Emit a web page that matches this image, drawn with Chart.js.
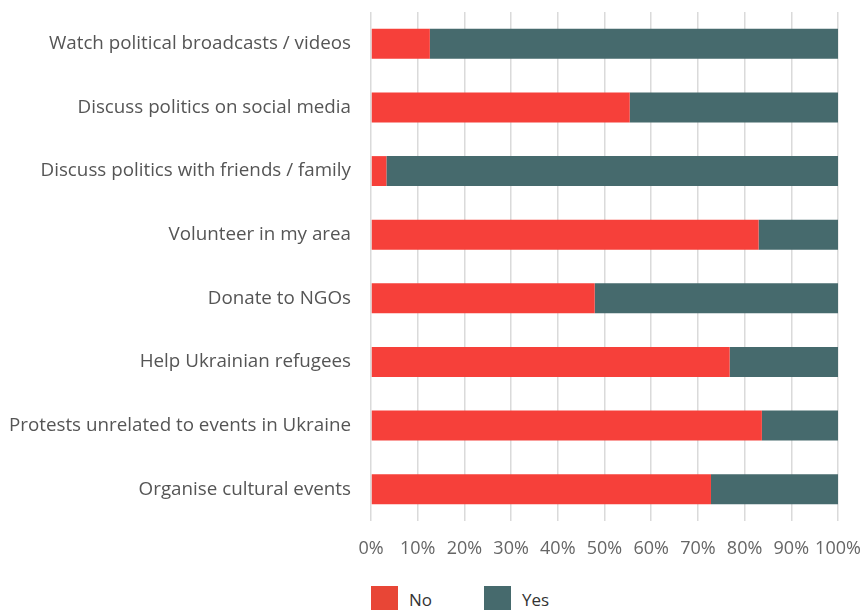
<!DOCTYPE html>
<html>
<head>
<meta charset="utf-8">
<script src="https://cdn.jsdelivr.net/npm/chart.js@4"></script>
<style>
  body { margin: 0; background: #fff; overflow: hidden; font-family: "Open Sans", sans-serif; }
  #wrap { position: relative; width: 862px; height: 575px; }
  #legend { position: absolute; left: 371px; top: 586px; display: flex; }
  .item { display: flex; align-items: center; width: 113px; }
  .box { width: 27px; height: 27px; margin-right: 11px; }
  .label { font-size: 17px; color: #333; }
</style>
</head>
<body>
<div id="wrap"><canvas id="chart"></canvas></div>
<div id="legend"></div>
<script>
const categories = [
    'Watch political broadcasts / videos',
    'Discuss politics on social media',
    'Discuss politics with friends / family',
    'Volunteer in my area',
    'Donate to NGOs',
    'Help Ukrainian refugees',
    'Protests unrelated to events in Ukraine',
    'Organise cultural events'
];
const noValues = [12.6, 55.4, 3.3, 83.0, 47.9, 76.8, 83.7, 72.8];
const yesValues = [87.4, 44.6, 96.7, 17.0, 52.1, 23.2, 16.3, 27.2];
const seriesNames = ['No', 'Yes'];
const seriesColors = ['#f6403a', '#466a6d'];
const legendColors = ['#e84636', '#466a6d'];
const xTicks = [0, 10, 20, 30, 40, 50, 60, 70, 80, 90, 100];

const chart = new Chart(document.getElementById('chart'), {
    type: 'bar',
    data: {
        labels: categories,
        datasets: [
            { label: seriesNames[0], data: noValues, backgroundColor: seriesColors[0] },
            { label: seriesNames[1], data: yesValues, backgroundColor: seriesColors[1] }
        ]
    },
    options: {
        indexAxis: 'y',
        responsive: true,
        maintainAspectRatio: false,
        animation: false,
        layout: { padding: { top: 12, right: 24, left: 0, bottom: 0 } },
        datasets: {
            bar: { barPercentage: 0.47, categoryPercentage: 1 }
        },
        scales: {
            x: {
                stacked: true,
                min: 0,
                max: 100,
                afterBuildTicks: (scale) => {
                    scale.ticks = xTicks.map(v => ({ value: v }));
                },
                afterFit: (scale) => {
                    scale.height = 54;
                    scale.paddingLeft = 0;
                    scale.paddingRight = 0;
                },
                grid: { color: '#dadada', lineWidth: 1.5, drawTicks: false },
                border: { display: false },
                ticks: {
                    padding: 17,
                    color: '#666',
                    maxRotation: 0,
                    minRotation: 0,
                    autoSkip: false,
                    font: { family: 'Open Sans', size: 18 },
                    callback: (v) => v + '%'
                }
            },
            y: {
                stacked: true,
                grid: { display: false, drawTicks: false },
                border: { display: false },
                afterFit: (scale) => {
                    scale.width = 371;
                    scale.paddingTop = 0;
                    scale.paddingBottom = 0;
                },
                ticks: {
                    padding: 20,
                    color: '#555',
                    font: { family: 'Open Sans', size: 18.8 }
                }
            }
        },
        plugins: {
            legend: { display: false },
            tooltip: { enabled: false }
        }
    }
});

const legend = document.getElementById('legend');
chart.data.datasets.forEach((ds, i) => {
    const item = document.createElement('div');
    item.className = 'item';
    item.innerHTML = `<span class="box" style="background:${legendColors[i]}"></span><span class="label">${ds.label}</span>`;
    legend.appendChild(item);
});
</script>
</body>
</html>
